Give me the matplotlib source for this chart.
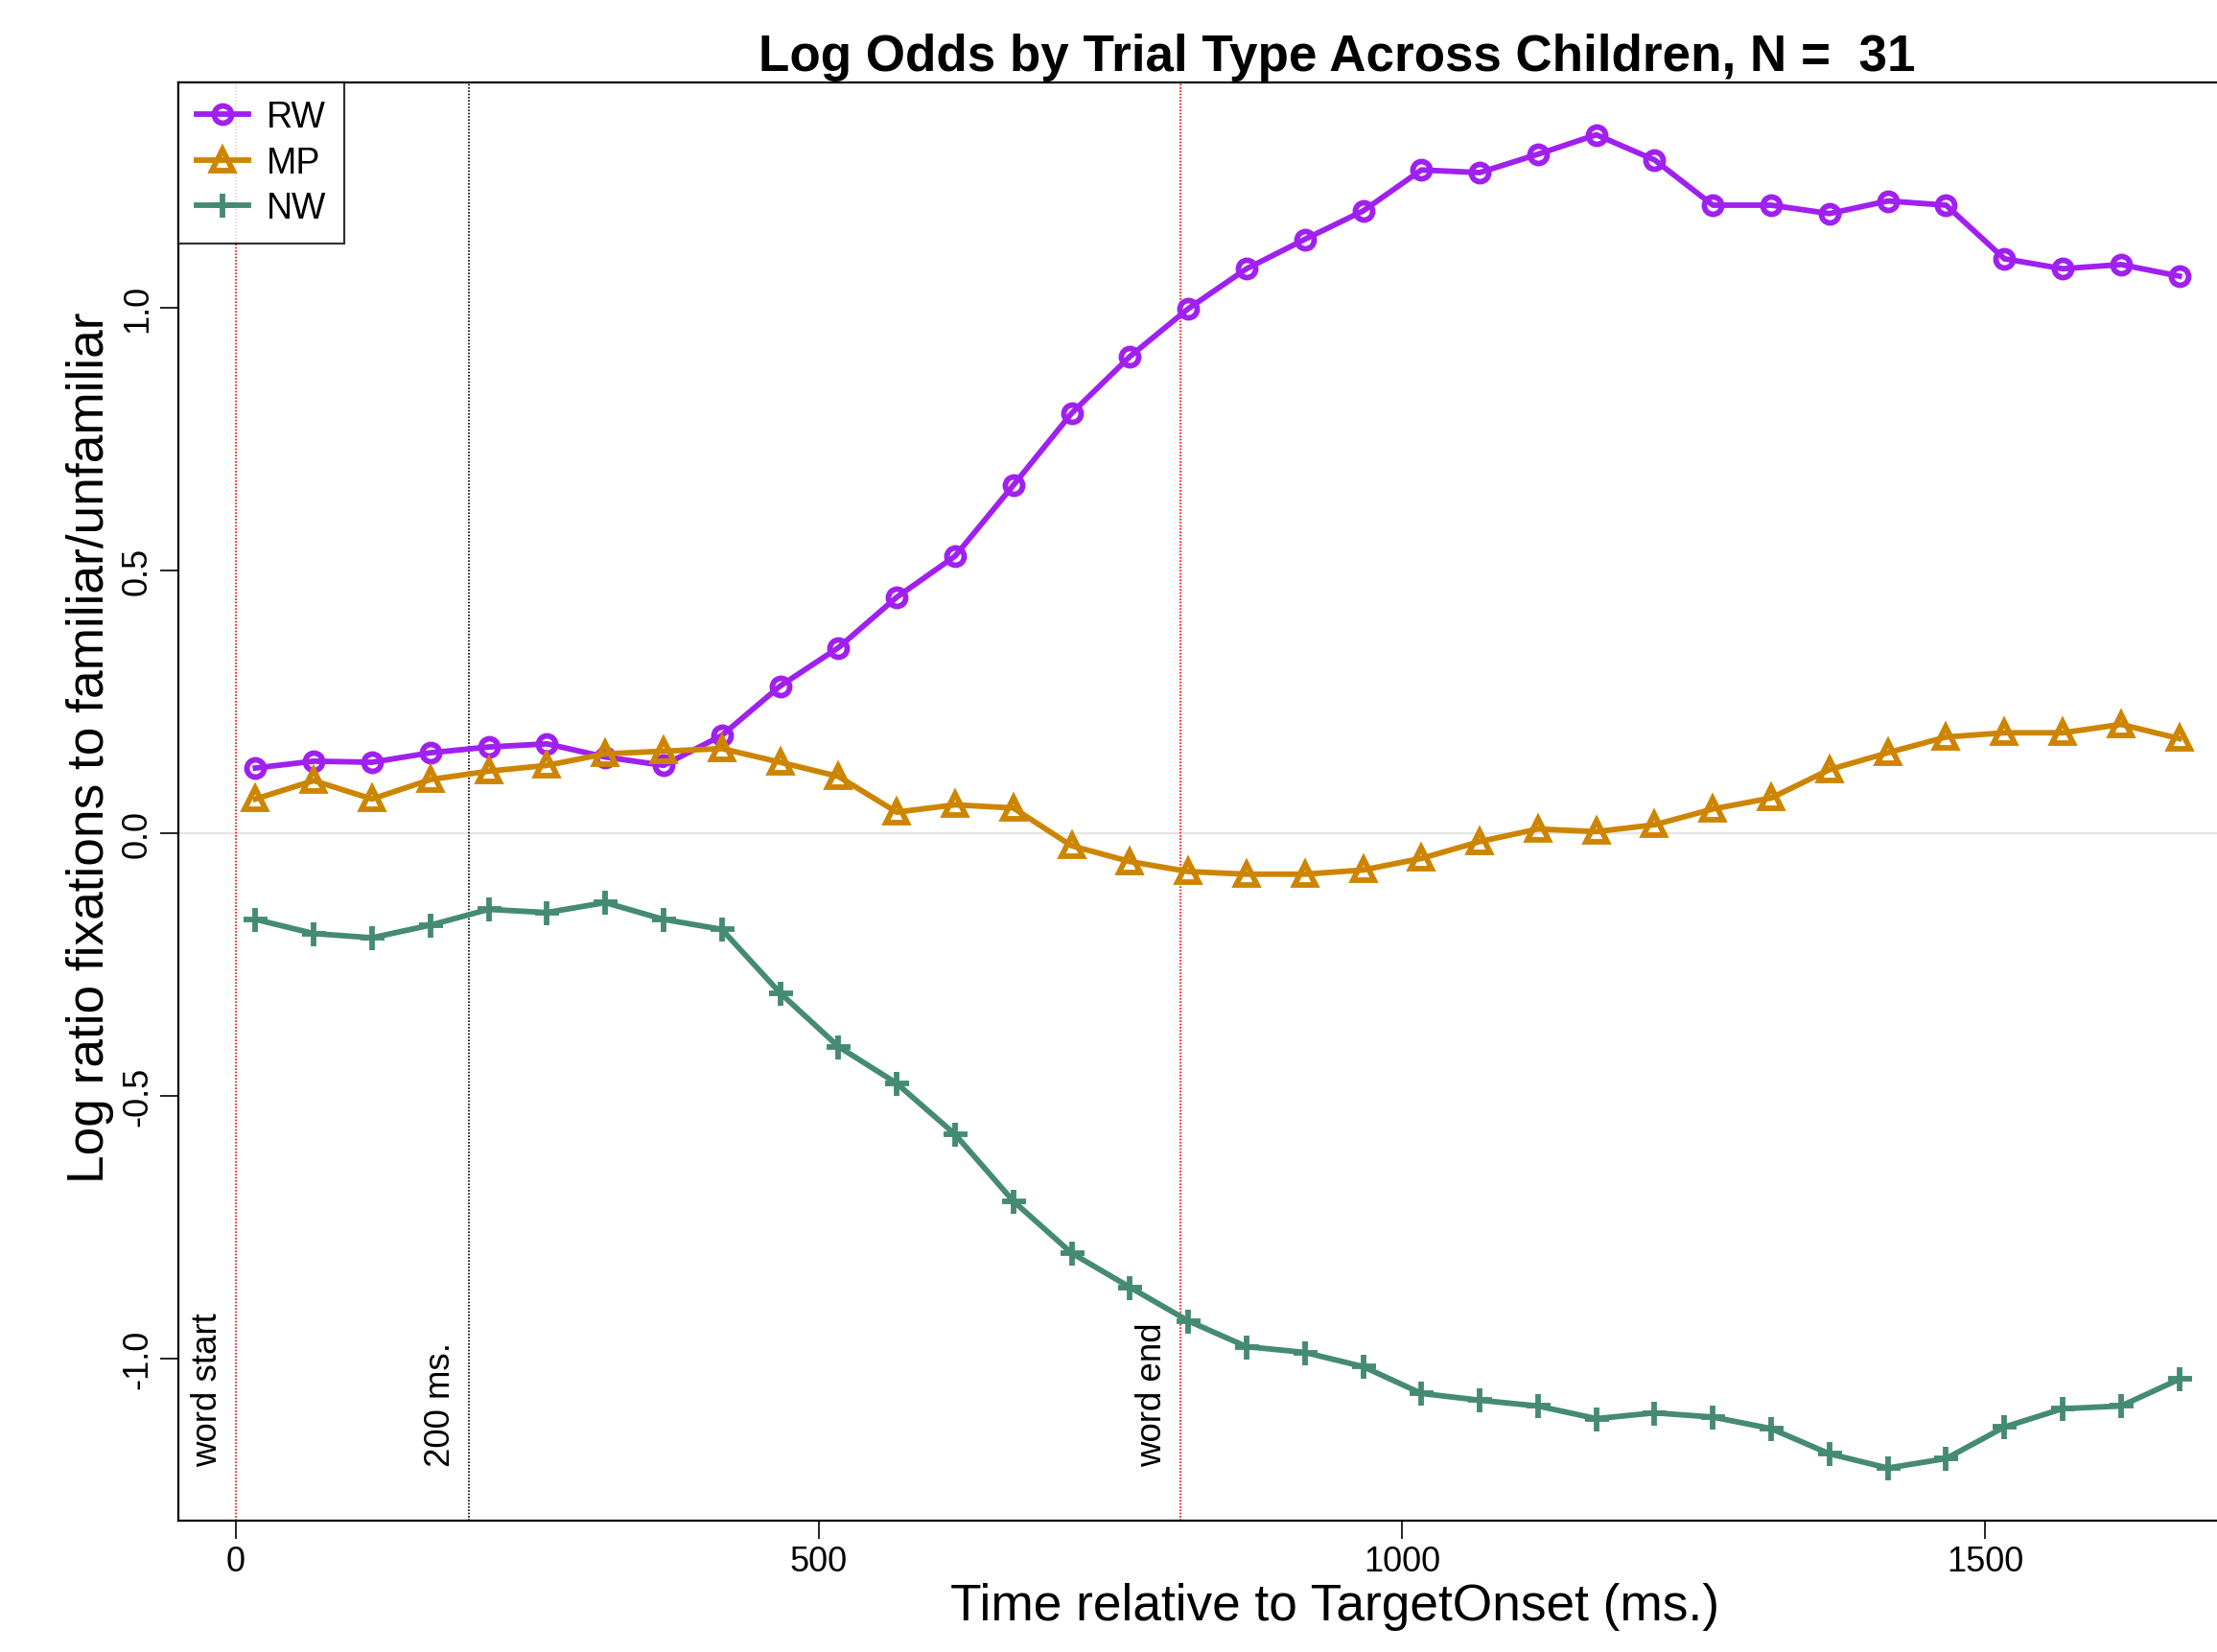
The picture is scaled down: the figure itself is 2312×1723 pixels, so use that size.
import matplotlib
matplotlib.use("Agg")
import matplotlib.pyplot as plt

plt.rcParams['font.family'] = ['Liberation Sans', 'DejaVu Sans']

# time bins (ms after target onset)
time_ms = [16.7, 66.7, 116.7, 166.7, 216.7, 266.7, 316.7, 366.7, 416.7, 466.7,
           516.7, 566.7, 616.7, 666.7, 716.7, 766.7, 816.7, 866.7, 916.7, 966.7,
           1016.7, 1066.7, 1116.7, 1166.7, 1216.7, 1266.7, 1316.7, 1366.7, 1416.7, 1466.7,
           1516.7, 1566.7, 1616.7, 1666.7]

# log odds per trial type
rw = [0.124, 0.137, 0.135, 0.153, 0.164, 0.170, 0.145, 0.129, 0.186, 0.280,
      0.353, 0.449, 0.527, 0.662, 0.799, 0.907, 0.998, 1.074, 1.130, 1.184,
      1.262, 1.257, 1.292, 1.329, 1.281, 1.195, 1.195, 1.179, 1.203, 1.195,
      1.093, 1.074, 1.082, 1.060]
mp = [0.065, 0.100, 0.065, 0.102, 0.118, 0.129, 0.151, 0.156, 0.161, 0.135,
      0.108, 0.040, 0.054, 0.048, -0.024, -0.054, -0.073, -0.078, -0.078, -0.070,
      -0.048, -0.016, 0.008, 0.003, 0.016, 0.046, 0.067, 0.121, 0.153, 0.183,
      0.191, 0.191, 0.207, 0.180]
nw = [-0.164, -0.191, -0.199, -0.175, -0.145, -0.151, -0.132, -0.164, -0.183, -0.304,
      -0.406, -0.476, -0.573, -0.700, -0.799, -0.864, -0.928, -0.977, -0.988, -1.015,
      -1.066, -1.079, -1.090, -1.114, -1.103, -1.111, -1.133, -1.181, -1.208, -1.190,
      -1.130, -1.095, -1.090, -1.039]

series = ['RW', 'MP', 'NW']
colors = ['#A020F0', '#CD8500', '#458B74']

word_start = 0
lag_200 = 200
word_end = 810
n_children = 31

fig = plt.figure(figsize=(11.56, 8.62), dpi=200)
# plot box runs a little past the right edge of the page
ax = fig.add_axes([0.0805, 0.0795, 0.9372, 0.8702])

ax.axhline(0, color='#e6e6e6', lw=0.8, zorder=0)
ax.axvline(word_start, color='red', lw=0.6, ls=(0, (1, 1)), zorder=1)
ax.axvline(lag_200, color='black', lw=0.6, ls=(0, (1, 1)), zorder=1)
ax.axvline(word_end, color='red', lw=0.6, ls=(0, (1, 1)), zorder=1)

lw = 2.1
ax.plot(time_ms, rw, color=colors[0], lw=lw, marker='o', ms=6.5, mfc='none',
        mew=lw, label=series[0], zorder=3)
ax.plot(time_ms, mp, color=colors[1], lw=lw, marker='^', ms=7.8, mfc='none',
        mew=lw, label=series[1], zorder=3)
ax.plot(time_ms, nw, color=colors[2], lw=lw, marker='+', ms=9, mew=lw,
        label=series[2], zorder=3)

# labels for the reference lines
for xv, txt in [(word_start, 'word start'), (lag_200, '200 ms.'), (word_end, 'word end')]:
    ax.text(xv - 10, -1.205, txt, rotation=90, ha='right', va='bottom', fontsize=13.2)

ax.set_xlim(-49.3, 1732.7)
ax.set_ylim(-1.308, 1.429)
ax.set_xticks([0, 500, 1000, 1500])
ax.set_yticks([-1.0, -0.5, 0.0, 0.5, 1.0])
ax.set_yticklabels(['-1.0', '-0.5', '0.0', '0.5', '1.0'], rotation=90, va='center')
ax.tick_params(axis='both', direction='out', length=7, width=0.6, labelsize=13, pad=2)

for s in ax.spines.values():
    s.set_linewidth(0.8)

ax.set_xlabel('Time relative to TargetOnset (ms.)', fontsize=19.2)
ax.xaxis.set_label_coords(0.5565, -0.043)
ax.set_ylabel('Log ratio fixations to familiar/unfamiliar', fontsize=19.2)
ax.yaxis.set_label_coords(-0.031, 0.538)

fig.text(0.603, 0.957, 'Log Odds by Trial Type Across Children, N =  %d' % n_children,
         ha='center', va='baseline', fontsize=19.1, fontweight='bold')

leg = ax.legend(loc='upper left', bbox_to_anchor=(0, 1), fontsize=13.5,
                frameon=True, fancybox=False, edgecolor='black', borderaxespad=0,
                handlelength=1.45, handletextpad=0.5, labelspacing=0.3,
                borderpad=0.5)
leg.get_frame().set_linewidth(0.8)

fig.savefig('out.png', dpi=200)
